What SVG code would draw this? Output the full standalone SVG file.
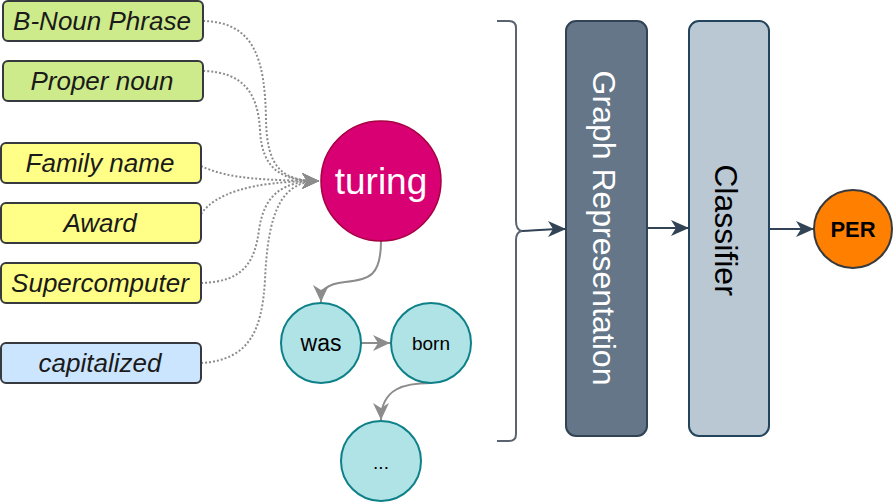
<svg xmlns="http://www.w3.org/2000/svg" width="894" height="502" viewBox="0 0 894 502">
<style>
  .box { stroke: #36393d; stroke-width: 2; }
  .green { fill: #cdeb8b; }
  .yellow { fill: #ffff88; }
  .blue { fill: #cce5ff; }
  .lbl { font-family: "Liberation Sans", Arial, sans-serif; font-style: italic; font-size: 26px; fill: #1a1a1a; text-anchor: middle; }
  .tok { fill: #b0e3e6; stroke: #0e8088; stroke-width: 2; }
  .toktxt { font-family: "Liberation Sans", Arial, sans-serif; fill: #000; text-anchor: middle; }
  .dot { fill: none; stroke: #8c8c8c; stroke-width: 2; stroke-dasharray: 2 2; }
  .gray { fill: none; stroke: #8c8c8c; stroke-width: 2; }
  .dark { fill: none; stroke: #314354; stroke-width: 2; }
  .vtxt { font-family: "Liberation Sans", Arial, sans-serif; font-size: 32px; text-anchor: middle; }
</style>
<defs>
  <marker id="ag" viewBox="-18 -9 19 18" refX="0" refY="0" markerWidth="19" markerHeight="18" markerUnits="userSpaceOnUse" orient="auto">
    <path d="M0,0 L-17,-8 L-12,0 L-17,8 Z" fill="#8c8c8c"/>
  </marker>
  <marker id="ad" viewBox="-19 -9 20 18" refX="0" refY="0" markerWidth="20" markerHeight="18" markerUnits="userSpaceOnUse" orient="auto">
    <path d="M0,0 L-18,-8 L-13,0 L-18,8 Z" fill="#314354"/>
  </marker>
</defs>

<g id="connectors">
  <path class="dot" d="M203,21 C255,22 265,60 266,120 C267,168 282,181 319,181" marker-end="url(#ag)"/>
  <path class="dot" d="M203,71 C245,72 258,95 260,130 C262,170 282,181 319,181" marker-end="url(#ag)"/>
  <path class="dot" d="M201,166 C230,180 270,180 319,181" marker-end="url(#ag)"/>
  <path class="dot" d="M201,214 C215,194 250,181 319,181" marker-end="url(#ag)"/>
  <path class="dot" d="M201,283 C245,282 255,260 259,230 C264,195 282,181 319,181" marker-end="url(#ag)"/>
  <path class="dot" d="M201,363 C250,360 262,330 265,280 C268,210 282,181 319,181" marker-end="url(#ag)"/>
  <path class="gray" d="M381,241 C381,275 370,280 345,282 C326,284 321,290 321,302" marker-end="url(#ag)"/>
  <path class="gray" d="M361,343 L390,343" marker-end="url(#ag)"/>
  <path class="gray" d="M431,383 C405,383 381,388 381,420" marker-end="url(#ag)"/>
  <path d="M497,21 L509,21 Q516,21 516,28 L516,221 Q516,230 522,231 Q516,232 516,240 L516,434 Q516,441 509,441 L497,441" fill="none" stroke="#5a6470" stroke-width="2"/>
  <path class="dark" d="M522,231 C540,230 550,229 566,229" marker-end="url(#ad)"/>
  <path class="dark" d="M647,228 L689,228" marker-end="url(#ad)"/>
  <path class="dark" d="M769,229 L814,229" marker-end="url(#ad)"/>
</g>

<g id="n-bnoun"><rect class="box green" x="3" y="1" width="200" height="40" rx="5"/><text class="lbl" x="102" y="30">B-Noun Phrase</text></g>
<g id="n-proper"><rect class="box green" x="3" y="61" width="200" height="40" rx="5"/><text class="lbl" x="102" y="90">Proper noun</text></g>
<g id="n-family"><rect class="box yellow" x="1" y="143" width="200" height="40" rx="5"/><text class="lbl" x="100" y="172">Family name</text></g>
<g id="n-award"><rect class="box yellow" x="1" y="203" width="200" height="40" rx="5"/><text class="lbl" x="100" y="232">Award</text></g>
<g id="n-super"><rect class="box yellow" x="1" y="263" width="200" height="40" rx="5"/><text class="lbl" x="100" y="292">Supercomputer</text></g>
<g id="n-cap"><rect class="box blue" x="1" y="343" width="200" height="40" rx="5"/><text class="lbl" x="100" y="372">capitalized</text></g>

<g id="n-turing"><circle cx="381" cy="181" r="60" fill="#d80073" stroke="#a50040" stroke-width="1.5"/><text x="381" y="194" font-family="Liberation Sans, Arial, sans-serif" font-size="37" fill="#ffffff" text-anchor="middle">turing</text></g>
<g id="n-was"><circle class="tok" cx="321" cy="343" r="40"/><text class="toktxt" x="321" y="351" font-size="23">was</text></g>
<g id="n-born"><circle class="tok" cx="431" cy="343" r="40"/><text class="toktxt" x="431" y="350" font-size="19">born</text></g>
<g id="n-dots"><circle class="tok" cx="381" cy="461" r="40"/><text class="toktxt" x="381" y="469" font-size="19">...</text></g>

<g id="n-graph"><rect x="566" y="21" width="81" height="415" rx="10" fill="#647687" stroke="#314354" stroke-width="2"/><text class="vtxt" fill="#ffffff" transform="translate(593,228) rotate(90)">Graph Representation</text></g>
<g id="n-classifier"><rect x="689" y="21" width="80" height="415" rx="10" fill="#bac8d3" stroke="#23445d" stroke-width="2"/><text class="vtxt" fill="#000000" transform="translate(715,230) rotate(90)">Classifier</text></g>
<g id="n-per"><circle cx="853" cy="229" r="39" fill="#ff8000" stroke="#36393d" stroke-width="2"/><text x="853" y="237" font-family="Liberation Sans, Arial, sans-serif" font-size="22" font-weight="bold" fill="#000" text-anchor="middle">PER</text></g>
</svg>
